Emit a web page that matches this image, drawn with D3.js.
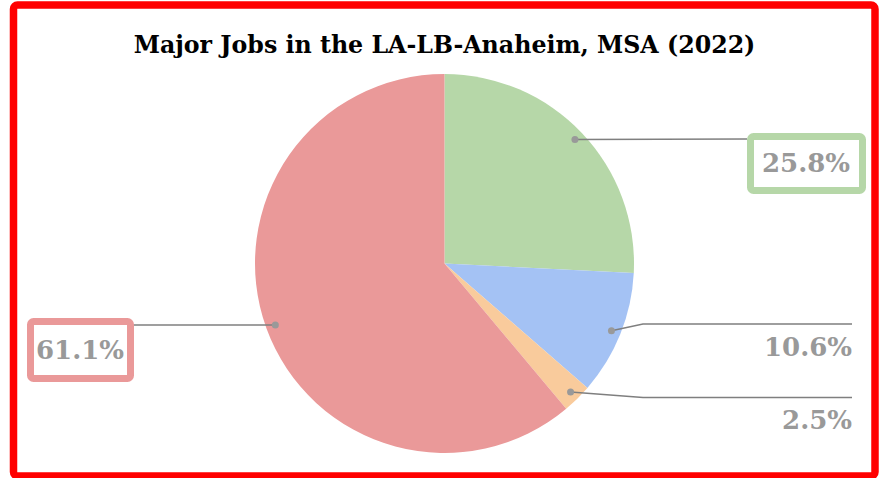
<!DOCTYPE html>
<html>
<head>
<meta charset="utf-8">
<script src="https://cdn.jsdelivr.net/npm/d3@7.9.0/dist/d3.min.js"></script>
<style>
  html, body { margin: 0; padding: 0; background: #ffffff; }
  svg { display: block; }
</style>
</head>
<body>
<div id="chart"></div>
<script>
const titleText = "Major Jobs in the LA-LB-Anaheim, MSA (2022)";
const sliceIds = ["s1", "s2", "s3", "s4"];
const shares = [25.8, 10.6, 2.5, 61.1];
const sliceColors = ["#b6d7a8", "#a4c2f4", "#f9cb9c", "#ea9999"];
const labelText = ["25.8%", "10.6%", "2.5%", "61.1%"];

const width = 885, height = 478;
const cx = 444.5, cy = 263.5, radius = 189.5;

// where each label sits: elbow point, end of leader, text anchor, optional box
const labelLayout = [
  { elbow: null, end: [747, 139], text: [806, 172], anchor: "middle", box: [750.5, 136.5, 112, 54] },
  { elbow: [643, 324], end: [852, 324], text: [852, 356], anchor: "end" },
  { elbow: [643, 397.5], end: [852, 397.5], text: [852, 429], anchor: "end" },
  { elbow: null, end: [134, 325], text: [80, 359], anchor: "middle", box: [30.5, 321.5, 100, 57] }
];

const labelFont = "'DejaVu Serif', Georgia, serif";

const svg = d3.select("#chart")
  .append("svg")
  .attr("width", width)
  .attr("height", height);

svg.append("rect")
  .attr("width", width)
  .attr("height", height)
  .attr("fill", "#ffffff");

// title, sized to span the same width as the original
const title = svg.append("text")
  .attr("x", cx)
  .attr("y", 53)
  .attr("text-anchor", "middle")
  .attr("font-family", labelFont)
  .attr("font-weight", "bold")
  .attr("font-size", 22)
  .attr("fill", "#000000")
  .text(titleText);
const tw = title.node().getComputedTextLength();
title.attr("font-size", 22 * 622 / tw);

const pie = d3.pie().sort(null).value(d => d);
const arcs = pie(shares);
const arc = d3.arc().innerRadius(0).outerRadius(radius);
const dotArc = d3.arc().innerRadius(180).outerRadius(180);

const g = svg.append("g").attr("transform", `translate(${cx},${cy})`);

g.selectAll("path")
  .data(arcs)
  .join("path")
  .attr("d", arc)
  .attr("fill", (d, i) => sliceColors[i]);

// leaders
arcs.forEach((d, i) => {
  const c = dotArc.centroid(d);
  const p0 = [cx + c[0], cy + c[1]];
  const lay = labelLayout[i];
  const pts = [p0];
  if (lay.elbow) pts.push(lay.elbow);
  pts.push(lay.end);

  svg.append("path")
    .attr("d", d3.line()(pts))
    .attr("fill", "none")
    .attr("stroke", "#7f7f7f")
    .attr("stroke-width", 1.5);

  svg.append("circle")
    .attr("cx", p0[0])
    .attr("cy", p0[1])
    .attr("r", 3.5)
    .attr("fill", "#999999");

  if (lay.box) {
    svg.append("rect")
      .attr("x", lay.box[0])
      .attr("y", lay.box[1])
      .attr("width", lay.box[2])
      .attr("height", lay.box[3])
      .attr("rx", 3)
      .attr("fill", "#ffffff")
      .attr("stroke", sliceColors[i])
      .attr("stroke-width", 7);
  }

  svg.append("text")
    .attr("x", lay.text[0])
    .attr("y", lay.text[1])
    .attr("text-anchor", lay.anchor)
    .attr("font-family", labelFont)
    .attr("font-weight", "bold")
    .attr("font-size", 26)
    .attr("fill", "#999999")
    .text(labelText[i]);
});

// red outer frame
svg.append("rect")
  .attr("x", 13.5)
  .attr("y", 5)
  .attr("width", 861.5)
  .attr("height", 471)
  .attr("rx", 4)
  .attr("fill", "none")
  .attr("stroke", "#ff0000")
  .attr("stroke-width", 7.5);
</script>
</body>
</html>
